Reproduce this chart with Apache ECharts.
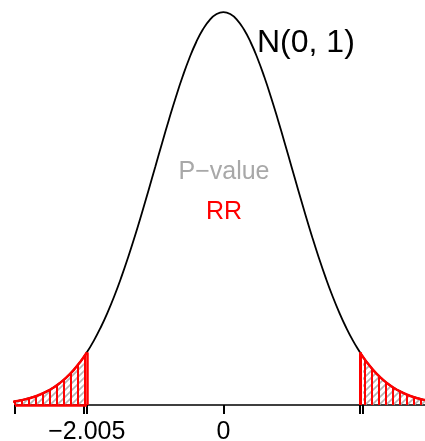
<!DOCTYPE html>
<html>
<head>
<meta charset="utf-8">
<script src="https://cdn.jsdelivr.net/npm/echarts@6/dist/echarts.min.js"></script>
<style>
html,body{margin:0;padding:0;background:#fff;}
#chart{width:425px;height:441px;}
</style>
</head>
<body>
<div id="chart"></div>
<script>
// 标准正态密度曲线上的点 (x, f(x))
var curveX = [-3.1,-3.0,-2.9,-2.8,-2.7,-2.6,-2.5,-2.4,-2.3,-2.2,-2.1,-2.05,-2.005,-2.0,-1.9,-1.8,-1.7,-1.6,-1.5,-1.4,-1.3,-1.2,-1.1,-1.0,-0.9,-0.8,-0.7,-0.6,-0.5,-0.4,-0.3,-0.2,-0.1,
	0,0.1,0.2,0.3,0.4,0.5,0.6,0.7,0.8,0.9,1.0,1.1,1.2,1.3,1.4,1.5,1.6,1.7,1.8,1.9,2.0,2.005,2.05,2.1,2.2,2.3,2.4,2.5,2.6,2.7,2.8,2.9,3.0];
var curveY = [0.00327,0.00443,0.00595,0.00792,0.01042,0.01358,0.01753,0.02239,0.02833,0.03547,0.04398,0.04879,0.05345,0.05399,0.06562,0.07895,0.09405,0.11092,0.12952,0.14973,0.17137,0.19419,0.21785,0.24197,0.26609,0.28969,0.31225,0.33322,0.35207,0.36827,0.38139,0.39104,0.39695,
	0.39894,0.39695,0.39104,0.38139,0.36827,0.35207,0.33322,0.31225,0.28969,0.26609,0.24197,0.21785,0.19419,0.17137,0.14973,0.12952,0.11092,0.09405,0.07895,0.06562,0.05399,0.05345,0.04879,0.04398,0.03547,0.02833,0.02239,0.01753,0.01358,0.01042,0.00792,0.00595,0.00443];
var rrCut = 2.005;     // 拒绝域边界
var pCut = 2.05;       // 检验统计量
var tickValues = [-3.06,-2.05,-2.005,0,2.005,2.05];
var labelValues = [-2.005,0];

function pick(f){
	var out = [];
	for(var i=0;i<curveX.length;i++){
		if(f(curveX[i])) out.push([curveX[i],curveY[i]]);
	}
	return out;
}
function heightAt(x){
	return curveY[curveX.indexOf(x)];
}

// 阴影线纹理
function hatch(kind){
	var c = document.createElement('canvas');
	var ctx = c.getContext('2d');
	if(kind=='diag'){
		c.width = 7; c.height = 7;
		ctx.strokeStyle = '#b4b4b4';
		ctx.lineWidth = 1.6;
		ctx.beginPath();
		ctx.moveTo(-1,8); ctx.lineTo(8,-1);
		ctx.moveTo(-1,1); ctx.lineTo(1,-1);
		ctx.moveTo(6,8); ctx.lineTo(8,6);
		ctx.stroke();
	}else{
		c.width = 7; c.height = 7;
		ctx.fillStyle = '#ff0000';
		ctx.fillRect(0,0,2,7);
	}
	return {image:c, repeat:'repeat'};
}

var myChart_1 = echarts.init(document.getElementById('chart'));
var redLine = {color:'#ff0000', width:2.5};
var option = {
	animation:false,
	grid:{left:15,right:0,top:11,bottom:36,outerBoundsMode:'none'},
	xAxis:{
		type:'value',
		min:-3.06,
		max:2.96,
		splitLine:{show:false},
		axisLine:{show:true, onZero:true, lineStyle:{color:'#000', width:1.5}},
		axisTick:{show:true, customValues:tickValues, length:9, lineStyle:{color:'#000', width:2}},
		axisLabel:{
			customValues:labelValues,
			margin:15,
			fontSize:25,
			fontFamily:'Liberation Sans',
			color:'#000',
			formatter:function(v){ return v<0 ? '\u2212'+(-v) : ''+v; }
		}
	},
	yAxis:{type:'value', min:0, max:0.4, show:false},
	series:[
		{
			type:'line', data:pick(function(x){return true;}),
			smooth:true, symbol:'none',
			lineStyle:{color:'#000', width:1.8}
		},
		{
			type:'line', data:pick(function(x){return x<=-pCut;}),
			smooth:true, symbol:'none', lineStyle:{width:0},
			areaStyle:{color:hatch('diag'), opacity:1}
		},
		{
			type:'line', data:pick(function(x){return x>=pCut;}),
			smooth:true, symbol:'none', lineStyle:{width:0},
			areaStyle:{color:hatch('diag'), opacity:1}
		},
		{
			type:'line', data:pick(function(x){return x<=-rrCut;}),
			smooth:true, symbol:'none', lineStyle:redLine,
			areaStyle:{color:hatch('vert'), opacity:1},
			markLine:{
				symbol:'none', silent:true, label:{show:false},
				lineStyle:{color:'#ff0000', width:2.5, type:'solid'},
				data:[
					[{coord:[-rrCut,0]},{coord:[-rrCut,heightAt(-rrCut)]}],
					[{coord:[-3.06,0]},{coord:[-rrCut,0]}]
				]
			}
		},
		{
			type:'line', data:pick(function(x){return x>=rrCut;}),
			smooth:true, symbol:'none', lineStyle:redLine,
			areaStyle:{color:hatch('vert'), opacity:1},
			markLine:{
				symbol:'none', silent:true, label:{show:false},
				lineStyle:{color:'#ff0000', width:3, type:'solid'},
				data:[
					[{coord:[rrCut,0]},{coord:[rrCut,heightAt(rrCut)]}]
				]
			}
		}
	],
	graphic:[
		{type:'text', x:257, y:43, style:{text:'N(0, 1)', fontSize:32, fontFamily:'Liberation Sans', fill:'#000', align:'left', verticalAlign:'middle'}},
		{type:'text', x:224, y:172, style:{text:'P\u2212value', fontSize:25, fontFamily:'Liberation Sans', fill:'#a8a8a8', align:'center', verticalAlign:'middle'}},
		{type:'text', x:224, y:212, style:{text:'RR', fontSize:25, fontFamily:'Liberation Sans', fill:'#ff0000', align:'center', verticalAlign:'middle'}}
	]
};
myChart_1.setOption(option);
</script>
</body>
</html>
